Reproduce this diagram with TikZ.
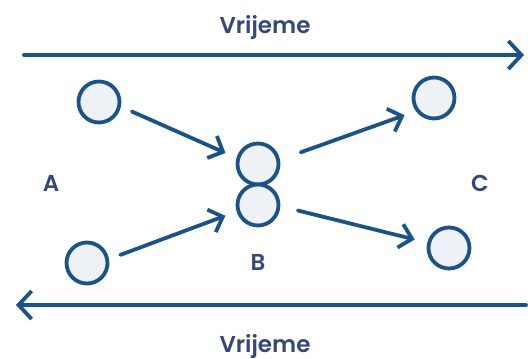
\documentclass[tikz,border=0pt]{standalone}
\usepackage{fontspec}
\setmainfont{Poppins}[BoldFont={Poppins SemiBold}]
\usepackage{tikz}
\usetikzlibrary{arrows.meta,positioning}
\definecolor{lineblue}{HTML}{1B5287}
\definecolor{textblue}{HTML}{34497A}
\definecolor{cellfill}{HTML}{EEF1F5}

\begin{document}
\begin{tikzpicture}[x=1pt,y=-1pt,
      cell/.style={circle,draw=lineblue,fill=cellfill,line width=3.8pt,minimum size=41pt,inner sep=0pt},
      flow/.style={-{Straight Barb[length=12pt,width=24pt]},lineblue,line width=3.8pt,line cap=round},
      timeline/.style={-{Straight Barb[length=13pt,width=28pt]},lineblue,line width=3.8pt,line cap=round},
      lbl/.style={text=textblue,font=\fontsize{23}{27}\selectfont\bfseries,anchor=base,inner sep=0pt}]
   \useasboundingbox (0,0) rectangle (528,359);
   % time axes
   \coordinate (t1s) at (24,55);
   \coordinate (t1e) at (524,55);
   \coordinate (t2s) at (526,305);
   \coordinate (t2e) at (16,305);
   \draw[timeline] (t1s) -- (t1e);
   \draw[timeline] (t2s) -- (t2e);
   \node[lbl] (top) at (265,33) {Vrijeme};
   \node[lbl] (bot) at (265,352) {Vrijeme};
   % cells
   \node[cell] (a1) at (99,102) {};
   \node[cell] (a2) at (87,263) {};
   \node[cell] (b1) at (258,164) {};
   \node[cell] (b2) at (258,205) {};
   \node[cell] (c1) at (434,98) {};
   \node[cell] (c2) at (449,248) {};
   \node[lbl] (la) at (51,191) {A};
   \node[lbl] (lb) at (258,270) {B};
   \node[lbl] (lc) at (480,191) {C};
   % moves
   \path[flow,shorten <=12pt,shorten >=12pt] (a1.-12) edge (b1.164);
   \path[flow,shorten <=12pt,shorten >=12pt] (a2.10) edge (b2.197);
   \path[flow,shorten <=22pt,shorten >=12pt] (b1.11) edge (c1.216);
   \path[flow,shorten <=18pt,shorten >=13pt] (b2.-3) edge (c2.166);
\end{tikzpicture}
\end{document}
